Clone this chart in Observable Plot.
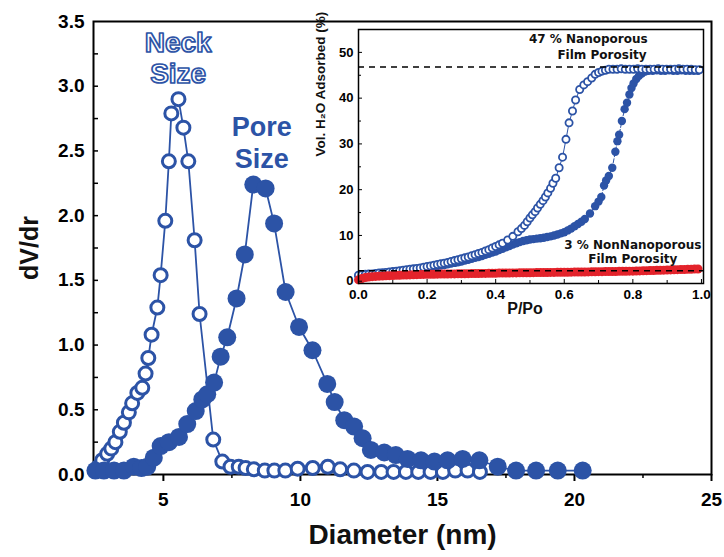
<!DOCTYPE html>
<html><head><meta charset="utf-8">
<script src="https://cdn.jsdelivr.net/npm/d3@7"></script>
<script src="https://cdn.jsdelivr.net/npm/@observablehq/plot@0.6"></script>
<style>
html,body{margin:0;padding:0;background:#fff;}
#wrap{position:relative;width:724px;height:557px;overflow:hidden;background:#fff;}
#wrap svg{position:absolute;top:0;}
</style></head><body><div id="wrap"></div>
<script>
// ---------- Main chart data: pore size distribution ----------
const neckData = [ // [diameter nm, dV/dr] open circles
  [2.52,0.03],[2.64,0.06],[2.77,0.11],[2.95,0.16],[3.1,0.20],[3.25,0.25],[3.41,0.33],[3.56,0.40],
  [3.74,0.48],[3.86,0.55],[4.05,0.63],[4.23,0.67],[4.35,0.78],[4.45,0.90],[4.57,1.08],[4.78,1.29],
  [4.9,1.54],[5.07,1.96],[5.2,2.42],[5.29,2.79],[5.55,2.90],[5.73,2.68],[5.91,2.42],[6.14,1.81],
  [6.32,1.24],[6.82,0.27],[7.15,0.10],[7.45,0.06],[7.75,0.06],[8.0,0.05],[8.3,0.04],[8.7,0.03],
  [9.05,0.03],[9.45,0.03],[9.9,0.045],[10.45,0.05],[11.0,0.06],[11.45,0.04],[11.95,0.03],[12.45,0.02],
  [12.95,0.02],[13.4,0.02],[13.85,0.02],[14.3,0.02],[14.75,0.02],[15.2,0.02],[15.65,0.03],[16.1,0.03],[16.55,0.02]
];
const poreData = [ // [diameter nm, dV/dr] filled circles
  [2.52,0.03],[2.83,0.03],[3.2,0.03],[3.56,0.03],[3.92,0.06],[4.2,0.05],[4.41,0.06],[4.65,0.13],
  [4.9,0.22],[5.2,0.25],[5.57,0.29],[5.87,0.39],[6.18,0.49],[6.42,0.58],[6.6,0.62],[6.85,0.71],
  [7.09,0.91],[7.33,1.06],[7.67,1.36],[7.97,1.70],[8.28,2.24],[8.73,2.21],[9.04,1.94],[9.46,1.41],
  [9.95,1.14],[10.44,0.96],[10.98,0.70],[11.25,0.56],[11.6,0.42],[11.96,0.37],[12.27,0.28],[12.57,0.19],
  [13.06,0.17],[13.48,0.15],[13.91,0.12],[14.4,0.11],[14.89,0.10],[15.37,0.11],[15.92,0.12],[16.53,0.11],
  [17.2,0.06],[17.87,0.03],[18.6,0.03],[19.39,0.03],[20.3,0.03]
];
const xMajorTicks = [5, 10, 15, 20, 25];
const xMinorTicks = [7.5, 12.5, 17.5, 22.5];
const yTickLabels = [0, 0.5, 1, 1.5, 2, 2.5, 3, 3.5];
const yAllTicks = [0.25, 0.5, 0.75, 1, 1.25, 1.5, 1.75, 2, 2.25, 2.5, 2.75, 3, 3.25];
const xTitle = "Diameter (nm)";
const yTitle = "dV/dr";
const neckLabel = {text: "Neck\nSize", d: 5.54, v: 3.22};
const poreLabel = {text: "Pore\nSize", d: 8.59, v: 2.57};

// ---------- Inset data: water adsorption isotherms ----------
const desorption = [ // open circles [P/Po, vol %]
  [0.00,1.3],[0.01,1.4],[0.02,1.5],[0.03,1.55],[0.04,1.6],[0.05,1.7],[0.06,1.8],[0.07,1.85],[0.08,1.9],[0.09,2.0],
  [0.10,2.1],[0.11,2.2],[0.12,2.3],[0.13,2.4],[0.14,2.5],[0.15,2.6],[0.16,2.7],[0.17,2.8],[0.18,2.9],[0.19,3.05],
  [0.20,3.2],[0.21,3.35],[0.22,3.5],[0.23,3.65],[0.24,3.8],[0.25,3.95],[0.26,4.1],[0.27,4.3],[0.28,4.5],[0.29,4.7],
  [0.30,4.9],[0.31,5.1],[0.32,5.3],[0.33,5.55],[0.34,5.8],[0.35,6.05],[0.36,6.3],[0.37,6.6],[0.38,6.9],[0.39,7.25],
  [0.40,7.6],[0.41,7.95],[0.42,8.3],[0.435,9.0],[0.45,9.8],[0.465,10.8],[0.475,11.5],[0.484,12.2],[0.492,13.0],[0.50,13.8],
  [0.507,14.5],[0.515,15.2],[0.522,16.0],[0.53,16.8],[0.538,17.6],[0.545,18.4],[0.552,19.3],[0.56,20.3],
  [0.567,21.4],[0.575,22.5],[0.585,24.8],[0.595,27.1],[0.605,31.0],[0.614,34.6],[0.624,37.2],[0.633,39.6],
  [0.645,41.9],[0.657,42.9],[0.668,43.6],[0.68,44.4],[0.69,45.2],[0.70,45.6],[0.71,45.9],[0.72,46.1],
  [0.73,46.3],[0.742,46.3],[0.754,46.3],[0.766,46.4],[0.778,46.3],[0.79,46.3],[0.802,46.3],[0.814,46.4],
  [0.826,46.3],[0.838,46.3],[0.85,46.3],[0.862,46.3],[0.874,46.4],[0.886,46.3],[0.898,46.3],[0.91,46.3],
  [0.922,46.3],[0.934,46.4],[0.946,46.3],[0.958,46.3],[0.97,46.3],[0.982,46.2],[0.994,46.2]
];
const adsorption = [ // filled circles [P/Po, vol %]
  [0.00,1.1],[0.01,1.2],[0.02,1.3],[0.03,1.35],[0.04,1.4],[0.05,1.5],[0.06,1.6],[0.07,1.65],[0.08,1.7],[0.09,1.8],
  [0.10,1.9],[0.11,2.0],[0.12,2.1],[0.13,2.2],[0.14,2.3],[0.15,2.4],[0.16,2.5],[0.17,2.6],[0.18,2.7],[0.19,2.8],
  [0.20,2.9],[0.21,3.05],[0.22,3.2],[0.23,3.3],[0.24,3.4],[0.25,3.55],[0.26,3.7],[0.27,3.85],[0.28,4.0],[0.29,4.15],
  [0.30,4.3],[0.31,4.5],[0.32,4.7],[0.33,4.9],[0.34,5.1],[0.35,5.3],[0.36,5.5],[0.37,5.75],[0.38,6.0],[0.39,6.25],
  [0.40,6.5],[0.41,6.8],[0.42,7.1],[0.43,7.4],[0.44,7.7],[0.45,8.0],[0.46,8.3],[0.47,8.55],[0.48,8.8],[0.49,8.95],
  [0.50,9.1],[0.51,9.2],[0.52,9.3],[0.53,9.4],[0.54,9.5],[0.55,9.65],[0.56,9.8],[0.57,10.0],[0.58,10.2],[0.59,10.45],
  [0.60,10.7],[0.61,11.1],[0.62,11.5],[0.63,12.0],[0.64,12.5],[0.65,13.0],[0.66,13.6],[0.675,14.8],[0.69,16.4],
  [0.70,17.4],[0.708,18.4],[0.716,20.9],[0.722,22.0],[0.73,23.0],[0.74,24.8],[0.749,28.3],[0.755,30.6],[0.76,32.0],
  [0.768,35.0],[0.776,37.6],[0.783,39.0],[0.79,40.8],[0.796,42.2],[0.802,43.2],[0.81,44.2],[0.818,44.9],[0.826,45.4],
  [0.836,45.8],[0.846,46.0],[0.858,46.0],[0.87,46.1],[0.882,46.0],[0.894,46.0],[0.906,46.1],[0.918,46.0],[0.93,46.0],
  [0.942,46.1],[0.954,46.0],[0.966,46.0],[0.978,46.0],[0.99,46.0]
];
const nonporous = [ // red [P/Po, vol %]
  [0.00,0.3],[0.01,0.6],[0.02,0.8],[0.03,0.9],[0.04,1.0],[0.05,1.05],[0.06,1.1],[0.07,1.15],[0.08,1.2],[0.09,1.22],
  [0.10,1.25],[0.11,1.28],[0.12,1.3],[0.13,1.33],[0.14,1.35],[0.15,1.38],[0.16,1.4],[0.17,1.43],[0.18,1.45],[0.19,1.48],
  [0.20,1.5],[0.21,1.51],[0.22,1.52],[0.23,1.54],[0.24,1.55],[0.25,1.57],[0.26,1.58],[0.27,1.59],[0.28,1.6],[0.29,1.61],
  [0.30,1.62],[0.31,1.64],[0.32,1.65],[0.33,1.67],[0.34,1.68],[0.35,1.69],[0.36,1.7],[0.37,1.71],[0.38,1.72],[0.39,1.74],
  [0.40,1.75],[0.41,1.77],[0.42,1.78],[0.43,1.79],[0.44,1.8],[0.45,1.81],[0.46,1.82],[0.47,1.83],[0.48,1.84],[0.49,1.85],
  [0.50,1.86],[0.51,1.87],[0.52,1.88],[0.53,1.89],[0.54,1.9],[0.55,1.91],[0.56,1.92],[0.57,1.93],[0.58,1.94],[0.59,1.95],
  [0.60,1.96],[0.61,1.97],[0.62,1.98],[0.63,1.99],[0.64,2.0],[0.65,2.01],[0.66,2.02],[0.67,2.03],[0.68,2.05],[0.69,2.06],
  [0.70,2.08],[0.71,2.09],[0.72,2.1],[0.73,2.11],[0.74,2.12],[0.75,2.13],[0.76,2.15],[0.77,2.16],[0.78,2.18],[0.79,2.19],
  [0.80,2.2],[0.81,2.22],[0.82,2.25],[0.83,2.27],[0.84,2.3],[0.85,2.32],[0.86,2.35],[0.87,2.37],[0.88,2.4],[0.89,2.42],
  [0.90,2.45],[0.91,2.47],[0.92,2.5],[0.93,2.52],[0.94,2.55],[0.95,2.57],[0.96,2.6],[0.97,2.62],[0.98,2.65],[0.99,2.67]
];
const porosityLevels = [46.8, 2.3];
const insetXLabels = [0, 0.2, 0.4, 0.6, 0.8, 1.0];
const insetXMinor = [0.1, 0.3, 0.5, 0.7, 0.9];
const insetYLabels = [0, 10, 20, 30, 40, 50];
const insetYMinor = [5, 15, 25, 35, 45];
const insetXTitle = "P/Po";
const insetYTitle = "Vol. H\u2082O Adsorbed (%)";
const noteHigh = [{text: "47 % Nanoporous", p: 0.67, v: 52.8}, {text: "Film Porosity", p: 0.71, v: 49.3}];
const noteLow = [{text: "3 % NonNanoporous", p: 0.80, v: 7.8}, {text: "Film Porosity", p: 0.80, v: 4.8}];

const BLUE = "#2c53a6", RED = "#e3232b";
const SANS = "'Liberation Sans', Arial, Helvetica, sans-serif";
const toObj = ([x, y]) => ({x, y});

const main = Plot.plot({
  width: 724, height: 557,
  marginLeft: 93, marginRight: 13, marginTop: 21, marginBottom: 83,
  x: {domain: [2.45, 25], label: null},
  y: {domain: [0, 3.5], label: null},
  style: {fontFamily: SANS, fontWeight: "bold", color: "#000", background: "transparent", overflow: "visible"},
  marks: [
    Plot.axisX(xMinorTicks, {tickSize: 4, strokeWidth: 1.5, tickFormat: () => "", label: null}),
    Plot.axisX(xMajorTicks, {tickSize: 7, strokeWidth: 2, tickFormat: () => "", label: null}),
    Plot.axisX(xMajorTicks, {tickSize: 0, tickPadding: 18, fontSize: 19, tickFormat: d => String(d), label: null}),
    Plot.axisY(yAllTicks, {tickSize: 5, dx: 5, strokeWidth: 1.5, tickFormat: () => "", label: null}),
    Plot.axisY(yTickLabels, {tickSize: 0, tickPadding: 9, fontSize: 19, tickFormat: d => d.toFixed(1), label: null}),
    Plot.frame({stroke: "#000", strokeWidth: 2}),
    Plot.line(neckData.map(toObj), {x: "x", y: "y", stroke: BLUE, strokeWidth: 1.8}),
    Plot.dot(neckData.map(toObj), {x: "x", y: "y", r: 6.5, stroke: BLUE, strokeWidth: 3, fill: "white"}),
    Plot.line(poreData.map(toObj), {x: "x", y: "y", stroke: BLUE, strokeWidth: 1.8}),
    Plot.dot(poreData.map(toObj), {x: "x", y: "y", r: 9, fill: BLUE}),
    Plot.text([xTitle], {frameAnchor: "bottom", dy: 69, fontSize: 28, fontWeight: "bold", fill: "#111"}),
    Plot.text([yTitle], {frameAnchor: "left", dx: -64, dy: 32, rotate: -90, fontSize: 25, fontWeight: "bold", fill: "#111"}),
    Plot.text([neckLabel], {x: "d", y: "v", text: "text", fontSize: 28, fontWeight: "bold", fill: "white",
      stroke: BLUE, strokeWidth: 1.7, paintOrder: "normal", lineHeight: 1.1}),
    Plot.text([poreLabel], {x: "d", y: "v", text: "text", fontSize: 27, fontWeight: "bold", fill: BLUE, lineHeight: 1.17})
  ]
});
main.style.left = "0px";

const inset = Plot.plot({
  width: 424, height: 330,
  marginLeft: 58, marginRight: 21, marginTop: 29, marginBottom: 47,
  x: {domain: [0, 1.006], label: null},
  y: {domain: [-0.5, 55], label: null},
  style: {fontFamily: SANS, fontWeight: "bold", color: "#000", background: "transparent", overflow: "visible"},
  marks: [
    Plot.frame({fill: "white", stroke: "none"}),
    Plot.line(adsorption.map(toObj), {x: "x", y: "y", stroke: BLUE, strokeWidth: 1, strokeDasharray: "4,2"}),
    Plot.dot(adsorption.map(toObj), {x: "x", y: "y", r: 4.2, fill: BLUE}),
    Plot.line(desorption.map(toObj), {x: "x", y: "y", stroke: BLUE, strokeWidth: 1}),
    Plot.dot(desorption.map(toObj), {x: "x", y: "y", r: 3.6, stroke: BLUE, strokeWidth: 1.8, fill: "white"}),
    Plot.dot(nonporous.map(toObj), {x: "x", y: "y", r: 4.5, fill: RED}),
    Plot.ruleY(porosityLevels, {stroke: "#000", strokeWidth: 1.5, strokeDasharray: "6,5"}),
    Plot.frame({stroke: "#000", strokeWidth: 1.5}),
    Plot.axisX(insetXMinor, {tickSize: 3, dy: -3, tickFormat: () => "", label: null}),
    Plot.axisX(insetXLabels, {tickSize: 4, dy: -4, tickFormat: () => "", label: null}),
    Plot.axisX(insetXLabels, {tickSize: 0, tickPadding: 6, fontSize: 13.5, tickFormat: d => d.toFixed(1), label: null}),
    Plot.axisY(insetYMinor, {tickSize: 3, dx: 3, tickFormat: () => "", label: null}),
    Plot.axisY(insetYLabels, {tickSize: 4, dx: 4, tickFormat: () => "", label: null}),
    Plot.axisY(insetYLabels, {tickSize: 0, tickPadding: 5, fontSize: 13, tickFormat: d => String(d), label: null}),
    Plot.text([insetXTitle], {frameAnchor: "bottom", dx: -6, dy: 30, fontSize: 16, fontWeight: "bold", fill: "#111"}),
    Plot.text([insetYTitle], {frameAnchor: "left", dx: -38, rotate: -90, fontSize: 13.5, fontWeight: "bold", fill: "#111"}),
    Plot.text(noteHigh, {x: "p", y: "v", text: "text", fontFamily: "'DejaVu Sans', Verdana, sans-serif", fontSize: 12, fontWeight: "bold", fill: "#111"}),
    Plot.text(noteLow, {x: "p", y: "v", text: "text", fontFamily: "'DejaVu Sans', Verdana, sans-serif", fontSize: 12, fontWeight: "bold", fill: "#111"})
  ]
});
inset.style.left = "300px";

const wrap = document.getElementById("wrap");
wrap.appendChild(main);
wrap.appendChild(inset);
</script>
</body></html>
